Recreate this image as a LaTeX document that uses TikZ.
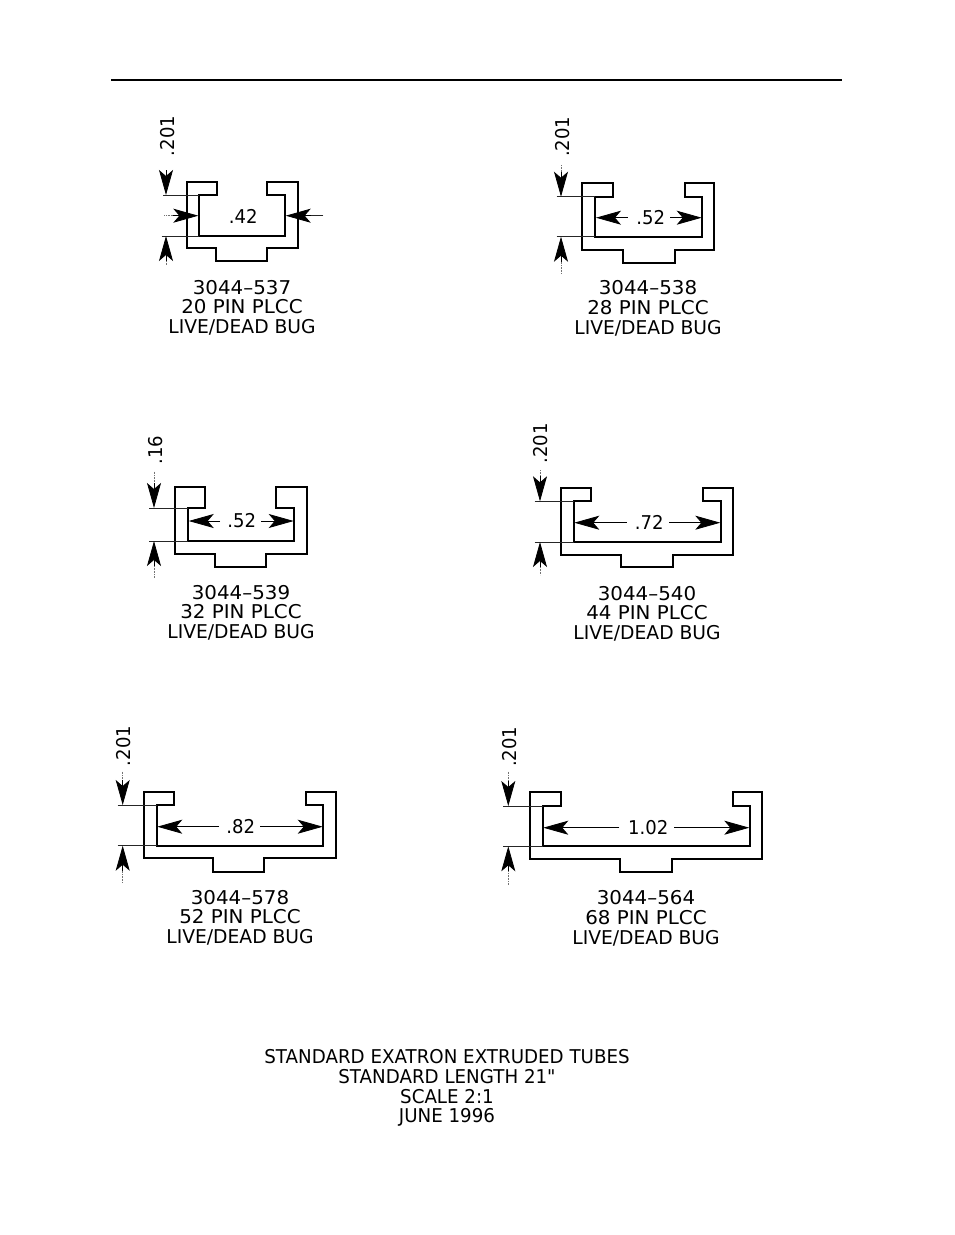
\documentclass[tikz,border=0pt]{standalone}
\usepackage{fontspec}
\setmainfont{DejaVu Sans}
\newfontfamily\numf[FakeStretch=0.95]{DejaVu Sans}
\newfontfamily\capf[FakeStretch=1.045]{DejaVu Sans}
\newfontfamily\bugf[FakeStretch=0.985]{DejaVu Sans}
\newfontfamily\titlef[FakeStretch=0.96]{DejaVu Sans}
\newcommand{\capl}[3]{{\capf #1}\\{\capf #2}\\{\bugf #3}}
\usetikzlibrary{arrows.meta}
\tikzset{
  x=1pt,y=-1pt,
  tube/.style={line width=2pt,line join=miter,black},
  ext/.style={line width=0.8pt,black!85},
  dimarrow/.style={line width=0.8pt,black,-{Stealth[length=25pt,width=14pt,inset=6pt]}},
  dotline/.style={line width=0.6pt,black!55,densely dotted},
  captext/.style={align=center,inner sep=0pt,font=\fontsize{19}{19.8}\selectfont},
  dimtext/.style={inner sep=0pt,font=\fontsize{19}{20}\selectfont\numf},
  sidetext/.style={inner sep=0pt,rotate=90,font=\fontsize{19}{20}\selectfont\numf},
}
\begin{document}
\begin{tikzpicture}
\useasboundingbox (0,0) rectangle (954,1235);
\draw[line width=2pt] (111,80) -- (842,80);

% 3044-537
\draw[tube] (186.7,181.7) -- (216.7,181.7) -- (216.7,195) -- (199,195) -- (199,236) -- (285,236) -- (285,195) -- (267.3,195) -- (267.3,181.7) -- (297.7,181.7) -- (297.7,248.3) -- (267,248.3) -- (267,261) -- (216,261) -- (216,248.3) -- (186.7,248.3) -- cycle;
\draw[ext] (163.3,195) -- (199,195);
\draw[ext] (161.7,236) -- (199,236);
\draw[dimarrow] (166,170) -- (166,195);
\draw[dimarrow] (166,261) -- (166,236);
\draw[dotline] (166,261) -- (166,265);
\draw[dotline] (164.3,215.7) -- (174.3,215.7);
\draw[dimarrow] (173.3,215.7) -- (198.3,215.7);
\draw[ext] (323.3,215.7) -- (311,215.7);
\draw[dimarrow] (311,215.7) -- (285.7,215.7);
\node[dimtext] (d1) at (243.3,216.3) {.42};
\node[sidetext] (s1) at (167.4,136) {.201};
\node[captext] (c1) at (242,307.8) {\capl{3044–537}{20 PIN PLCC}{LIVE/DEAD BUG}};

% 3044-538
\draw[tube] (582.3,183.3) -- (613.3,183.3) -- (613.3,196.7) -- (595.3,196.7) -- (595.3,236.7) -- (702.3,236.7) -- (702.3,196.7) -- (684.7,196.7) -- (684.7,183.3) -- (714.3,183.3) -- (714.3,249.7) -- (674.7,249.7) -- (674.7,262.7) -- (622.7,262.7) -- (622.7,249.7) -- (582.3,249.7) -- cycle;
\draw[ext] (556.7,196.7) -- (595.3,196.7);
\draw[ext] (556.7,236.7) -- (595.3,236.7);
\draw[dotline] (561,165) -- (561,172);
\draw[dimarrow] (561,171.7) -- (561,196.7);
\draw[dimarrow] (561,261.7) -- (561,236.7);
\draw[dotline] (561,261.7) -- (561,273);
\draw[dimarrow] (627.7,217.7) -- (596,217.7);
\draw[dimarrow] (670,217.7) -- (701.7,217.7);
\node[dimtext] (d2) at (650.7,217.7) {.52};
\node[sidetext] (s2) at (562.7,136.7) {.201};
\node[captext] (c2) at (648,308.3) {\capl{3044–538}{28 PIN PLCC}{LIVE/DEAD BUG}};

% 3044-539
\draw[tube] (175,487.3) -- (205.3,487.3) -- (205.3,508) -- (188,508) -- (188,541) -- (293.7,541) -- (293.7,508) -- (276,508) -- (276,487.3) -- (306.7,487.3) -- (306.7,554) -- (266,554) -- (266,566.7) -- (215,566.7) -- (215,554) -- (175,554) -- cycle;
\draw[ext] (149.3,508) -- (188,508);
\draw[ext] (149.3,541) -- (188,541);
\draw[dotline] (154,471.7) -- (154,484);
\draw[dimarrow] (154,483) -- (154,508);
\draw[dimarrow] (154,566) -- (154,541);
\draw[dotline] (154,566) -- (154,578);
\draw[dimarrow] (220,521) -- (188.7,521);
\draw[dimarrow] (261,521) -- (293.7,521);
\node[dimtext] (d3) at (241.7,521) {.52};
\node[sidetext] (s3) at (155.7,450) {.16};
\node[captext] (c3) at (241,612.8) {\capl{3044–539}{32 PIN PLCC}{LIVE/DEAD BUG}};

% 3044-540
\draw[tube] (561.3,488.3) -- (591.3,488.3) -- (591.3,501.3) -- (573.7,501.3) -- (573.7,542) -- (720.7,542) -- (720.7,501.3) -- (703.3,501.3) -- (703.3,488.3) -- (733.3,488.3) -- (733.3,554.7) -- (673.3,554.7) -- (673.3,567) -- (621.3,567) -- (621.3,554.7) -- (561.3,554.7) -- cycle;
\draw[ext] (534.7,501.3) -- (573.7,501.3);
\draw[ext] (534.7,542) -- (573.7,542);
\draw[dotline] (540,470) -- (540,477);
\draw[dimarrow] (540,476.3) -- (540,501.3);
\draw[dimarrow] (540,567) -- (540,542);
\draw[dotline] (540,567) -- (540,575);
\draw[dimarrow] (626.7,522.7) -- (574.3,522.7);
\draw[dimarrow] (669,522.7) -- (720.3,522.7);
\node[dimtext] (d4) at (649.3,522.7) {.72};
\node[sidetext] (s4) at (540.7,443.5) {.201};
\node[captext] (c4) at (647,613.8) {\capl{3044–540}{44 PIN PLCC}{LIVE/DEAD BUG}};

% 3044-578
\draw[tube] (144,792) -- (174,792) -- (174,805) -- (156.7,805) -- (156.7,845.7) -- (323.3,845.7) -- (323.3,805) -- (305.7,805) -- (305.7,792) -- (336,792) -- (336,858.3) -- (264.3,858.3) -- (264.3,871.7) -- (213.3,871.7) -- (213.3,858.3) -- (144,858.3) -- cycle;
\draw[ext] (117.7,805) -- (156.7,805);
\draw[ext] (117.7,845.7) -- (156.7,845.7);
\draw[dotline] (122.7,771.7) -- (122.7,781);
\draw[dimarrow] (122.7,780) -- (122.7,805);
\draw[dimarrow] (122.7,870.7) -- (122.7,845.7);
\draw[dotline] (122.7,870.7) -- (122.7,883);
\draw[dimarrow] (219,826.7) -- (157.3,826.7);
\draw[dimarrow] (260,826.7) -- (322.7,826.7);
\node[dimtext] (d5) at (240.7,826.7) {.82};
\node[sidetext] (s5) at (123.4,746) {.201};
\node[captext] (c5) at (240,917.8) {\capl{3044–578}{52 PIN PLCC}{LIVE/DEAD BUG}};

% 3044-564
\draw[tube] (529.7,792.3) -- (560.7,792.3) -- (560.7,806) -- (542.7,806) -- (542.7,846.3) -- (749.7,846.3) -- (749.7,806) -- (733,806) -- (733,792.3) -- (762,792.3) -- (762,859) -- (672.3,859) -- (672.3,872) -- (620.3,872) -- (620.3,859) -- (529.7,859) -- cycle;
\draw[ext] (503.3,806) -- (542.7,806);
\draw[ext] (503.3,846.3) -- (542.7,846.3);
\draw[dotline] (508.3,771.7) -- (508.3,782);
\draw[dimarrow] (508.3,781) -- (508.3,806);
\draw[dimarrow] (508.3,871.3) -- (508.3,846.3);
\draw[dotline] (508.3,871.3) -- (508.3,885);
\draw[dimarrow] (619.3,827.7) -- (543.3,827.7);
\draw[dimarrow] (674,827.7) -- (749.3,827.7);
\node[dimtext] (d6) at (648.3,827.7) {1.02};
\node[sidetext] (s6) at (509.7,746.7) {.201};
\node[captext] (c6) at (646,918.3) {\capl{3044–564}{68 PIN PLCC}{LIVE/DEAD BUG}};

\node[captext,font=\fontsize{19}{19.8}\selectfont\titlef] (title) at (447,1088) {STANDARD EXATRON EXTRUDED TUBES\\STANDARD LENGTH 21"\\SCALE 2:1\\JUNE 1996};
\end{tikzpicture}
\end{document}
